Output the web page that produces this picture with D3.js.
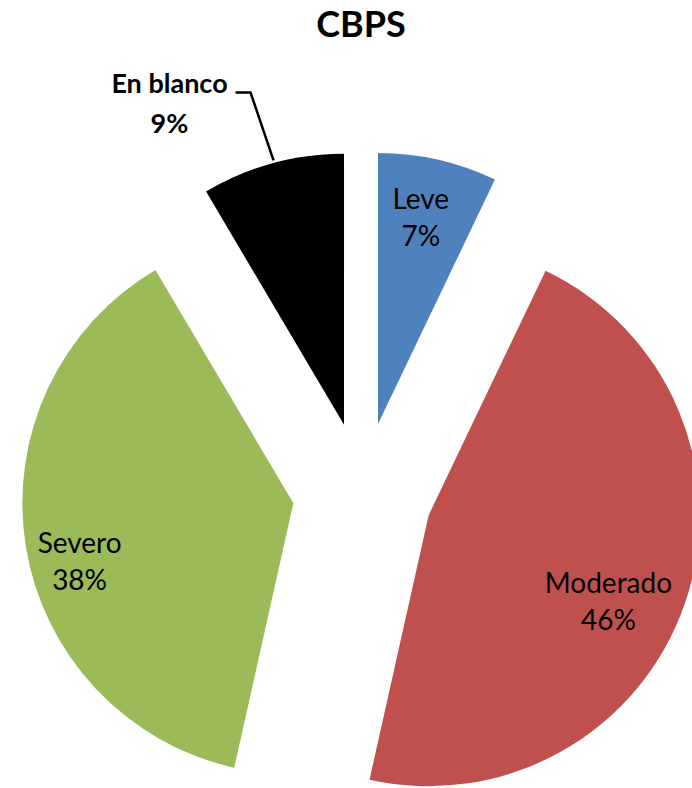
<!DOCTYPE html>
<html>
<head>
<meta charset="utf-8">
<script src="https://cdn.jsdelivr.net/npm/d3@7"></script>
<style>
  html, body { margin: 0; padding: 0; background: #fff; }
  svg { display: block; }
</style>
</head>
<body>
<svg id="chart" width="692" height="788"></svg>
<script>
const title = "CBPS";
const categories = ["Leve", "Moderado", "Severo", "En blanco"];
// percentages (labels show the rounded value)
const values = [7.1, 46.4, 38.0, 8.5];
const colors = ["#4F81BD", "#C0504D", "#9BBB59", "#000000"];

const W = 692, H = 788;
const cx = 362.5, cy = 492.3, R = 271, explode = 70;
const fontFam = "Lato, 'Open Sans', sans-serif";
const labelSize = 28, lineH = 37;
// fine placement of the inside labels (layout only)
const labelNudge = { "Leve": [-4, -9], "Moderado": [-20, 9], "Severo": [-5, 17] };

const svg = d3.select("#chart");

svg.append("text")
  .attr("x", 361).attr("y", 37)
  .attr("text-anchor", "middle")
  .attr("font-family", fontFam)
  .attr("font-weight", "bold")
  .attr("font-size", 36)
  .attr("fill", "#000")
  .text(title);

const data = categories.map((c, i) => ({ name: c, value: values[i], color: colors[i] }));
const pie = d3.pie().value(d => d.value).sort(null);
const arcs = pie(data);
const arc = d3.arc().innerRadius(0).outerRadius(R);

const g = svg.append("g").attr("transform", `translate(${cx},${cy})`);

const slices = g.selectAll("g.slice").data(arcs).enter().append("g")
  .attr("class", "slice")
  .attr("transform", d => {
    const m = (d.startAngle + d.endAngle) / 2;
    return `translate(${explode * Math.sin(m)},${-explode * Math.cos(m)})`;
  });

slices.append("path")
  .attr("d", arc)
  .attr("fill", d => d.data.color);

const fmt = v => Math.round(v) + "%";

// inside labels
slices.filter(d => d.data.name !== "En blanco").each(function(d) {
  const m = (d.startAngle + d.endAngle) / 2;
  const lr = R * 0.78;
  const nd = labelNudge[d.data.name] || [0, 0];
  const x = lr * Math.sin(m) + nd[0], y = -lr * Math.cos(m) + nd[1];
  const t = d3.select(this).append("text")
    .attr("text-anchor", "middle")
    .attr("font-family", fontFam)
    .attr("font-size", labelSize)
    .attr("fill", "#000");
  t.append("tspan").attr("x", x).attr("y", y).text(d.data.name);
  t.append("tspan").attr("x", x).attr("y", y + lineH).text(fmt(d.data.value));
});

// outside label with leader line
slices.filter(d => d.data.name === "En blanco").each(function(d) {
  const m = (d.startAngle + d.endAngle) / 2;
  const px = R * Math.sin(m), py = -R * Math.cos(m);
  const el = d3.select(this);
  const kx = px - 22, ky = py - 71;
  el.append("polyline")
    .attr("points", `${px + 1},${py - 3} ${kx},${ky} ${kx - 15},${ky}`)
    .attr("fill", "none").attr("stroke", "#000").attr("stroke-width", 2.5);
  const tx = kx - 81;
  const t = el.append("text")
    .attr("text-anchor", "middle")
    .attr("font-family", fontFam)
    .attr("font-weight", "bold")
    .attr("font-size", 27)
    .attr("fill", "#000");
  t.append("tspan").attr("x", tx).attr("y", ky + 1).text(d.data.name);
  t.append("tspan").attr("x", tx).attr("y", ky + 41).text(fmt(d.data.value));
});
</script>
</body>
</html>
